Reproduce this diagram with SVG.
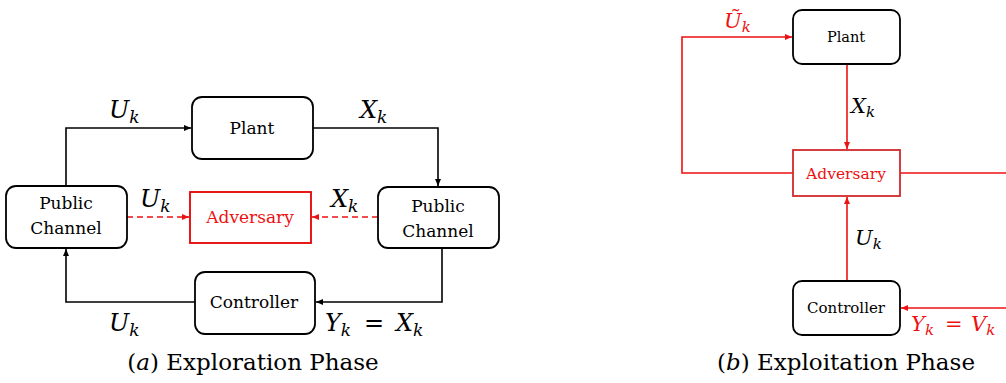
<svg xmlns="http://www.w3.org/2000/svg" width="1006" height="383" viewBox="0 0 1006 383">
<style>
.box{fill:#fff;stroke:#000;stroke-width:1.8}
.adv{fill:#fff;stroke:#e60000;stroke-width:1.8}
.adv2{fill:#fff;stroke:#d02a2a;stroke-width:1.8}
.ln{fill:none;stroke:#000;stroke-width:1.6}
.rl{fill:none;stroke:#ee1111;stroke-width:1.6}
.dash{fill:none;stroke:#ee1111;stroke-width:1.6;stroke-dasharray:6,4}
.t{font-family:"DejaVu Serif",serif;text-anchor:middle;fill:#000}
.m{font-family:"DejaVu Serif",serif;font-style:italic;fill:#000}
.eq{font-family:"DejaVu Serif",serif;fill:#000}
.red{fill:#ee1111}
</style>
<defs>
<marker id="ab" markerWidth="8" markerHeight="8" refX="7" refY="4" orient="auto" markerUnits="userSpaceOnUse"><path d="M0,1 L7,4 L0,7 z" fill="#000"/></marker>
<marker id="ar" markerWidth="8" markerHeight="8" refX="7" refY="4" orient="auto" markerUnits="userSpaceOnUse"><path d="M0,1 L7,4 L0,7 z" fill="#ee1111"/></marker>
</defs>

<g id="connectors">
<path class="ln" d="M66,186 V128 H191" marker-end="url(#ab)"/>
<path class="ln" d="M313,128 H438 V186" marker-end="url(#ab)"/>
<path class="ln" d="M442,248 V302 H316" marker-end="url(#ab)"/>
<path class="ln" d="M195,302 H66 V249" marker-end="url(#ab)"/>
<path class="dash" d="M127,217 H189" marker-end="url(#ar)"/>
<path class="dash" d="M378,217 H312" marker-end="url(#ar)"/>

<path class="rl" d="M793,173 H682 V37 H792" marker-end="url(#ar)"/>
<path class="rl" d="M900,173 H1006"/>
<path class="rl" d="M847,64 V149" marker-end="url(#ar)"/>
<path class="rl" d="M847,281 V197" marker-end="url(#ar)"/>
<path class="rl" d="M1006,308 H901" marker-end="url(#ar)"/>
</g>

<g id="plant-a"><rect class="box" x="192" y="97" width="121" height="62" rx="10"/><text class="t" x="252" y="134" font-size="17">Plant</text></g>
<g id="pc-left"><rect class="box" x="6" y="186" width="121" height="62" rx="10"/><text class="t" x="66" y="209" font-size="17">Public</text><text class="t" x="66" y="234" font-size="17">Channel</text></g>
<g id="pc-right"><rect class="box" x="378" y="187" width="121" height="61" rx="10"/><text class="t" x="438" y="212" font-size="17">Public</text><text class="t" x="438" y="237" font-size="17">Channel</text></g>
<g id="adversary-a"><rect class="adv" x="190" y="192" width="121" height="51"/><text class="t red" x="250" y="223" font-size="17">Adversary</text></g>
<g id="controller-a"><rect class="box" x="195" y="272" width="120" height="62" rx="10"/><text class="t" x="254" y="308" font-size="17">Controller</text></g>

<g id="plant-b"><rect class="box" x="793" y="10" width="107" height="54" rx="9"/><text class="t" x="846" y="42" font-size="14.5">Plant</text></g>
<g id="adversary-b"><rect class="adv2" x="793" y="150" width="107" height="46"/><text class="t red" x="846" y="179" font-size="15.5">Adversary</text></g>
<g id="controller-b"><rect class="box" x="793" y="281" width="107" height="54" rx="9"/><text class="t" x="846" y="313" font-size="15">Controller</text></g>

<g id="labels">
<text class="m" x="109" y="118" font-size="24">U<tspan font-size="17" dy="5">k</tspan></text>
<text class="m" x="360" y="118" font-size="24">X<tspan font-size="17" dy="5">k</tspan></text>
<text class="m" x="140" y="207" font-size="24">U<tspan font-size="17" dy="5">k</tspan></text>
<text class="m" x="331" y="207" font-size="24">X<tspan font-size="17" dy="5">k</tspan></text>
<text class="m" x="109" y="331" font-size="24">U<tspan font-size="17" dy="5">k</tspan></text>
<text class="m" x="325" y="331" font-size="24">Y<tspan font-size="17" dy="5">k</tspan><tspan class="eq" font-style="normal" font-size="24" x="364" dy="-5">=</tspan><tspan x="396">X</tspan><tspan font-size="17" dy="5">k</tspan></text>
<text class="t" x="253" y="370" font-size="23">(<tspan font-style="italic">a</tspan>) Exploration Phase</text>

<text class="m red" x="724" y="28" font-size="21">Ũ<tspan font-size="15" dy="4">k</tspan></text>
<text class="m" x="851" y="113" font-size="21">X<tspan font-size="15" dy="4">k</tspan></text>
<text class="m" x="855" y="245" font-size="21">U<tspan font-size="15" dy="4">k</tspan></text>
<text class="m red" x="911" y="331" font-size="21">Y<tspan font-size="15" dy="4">k</tspan><tspan font-style="normal" x="945" dy="-4">=</tspan><tspan x="971">V</tspan><tspan font-size="15" dy="4">k</tspan></text>
<text class="t" x="846" y="370" font-size="23">(<tspan font-style="italic">b</tspan>) Exploitation Phase</text>
</g>
</svg>
